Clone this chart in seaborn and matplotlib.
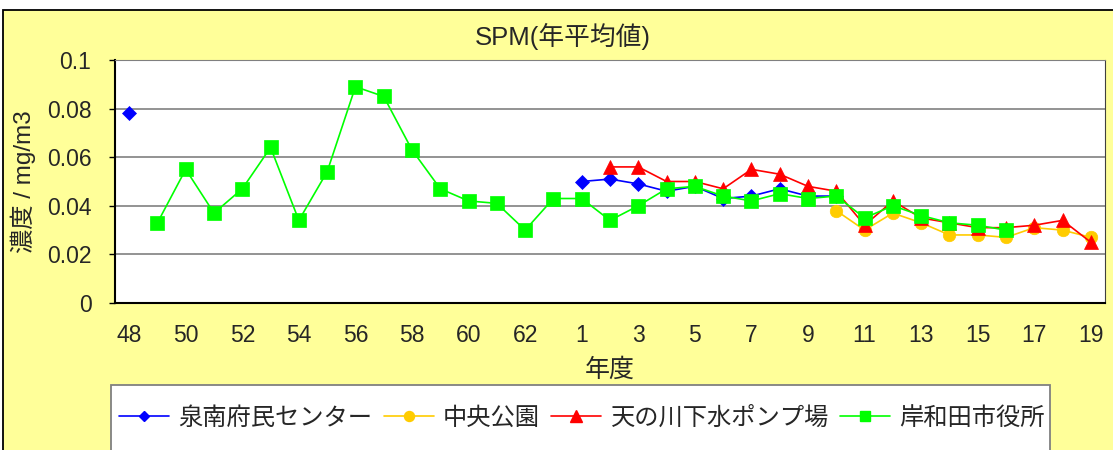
import numpy as np
import pandas as pd
import matplotlib
matplotlib.use("Agg")
import matplotlib.pyplot as plt
from matplotlib.lines import Line2D
from matplotlib.patches import Rectangle
import seaborn as sns

nan = np.nan

# 年度 (昭和48〜63, 平成1〜19)
years = ['48', '49', '50', '51', '52', '53', '54', '55', '56', '57', '58', '59',
         '60', '61', '62', '63', '1', '2', '3', '4', '5', '6', '7', '8', '9',
         '10', '11', '12', '13', '14', '15', '16', '17', '18', '19']

stations = ['泉南府民センター', '中央公園', '天の川下水ポンプ場', '岸和田市役所']

# 年平均値 mg/m3
sennan = [0.078, nan, nan, nan, nan, nan, nan, nan, nan, nan, nan, nan,
          nan, nan, nan, nan, 0.050, 0.051, 0.049, 0.046, 0.048, 0.043, 0.044,
          0.047, 0.044, 0.044, nan, nan, nan, nan, nan, nan, nan, nan, nan]
chuo = [nan, nan, nan, nan, nan, nan, nan, nan, nan, nan, nan, nan,
        nan, nan, nan, nan, nan, nan, nan, nan, nan, nan, nan, nan, nan,
        0.038, 0.030, 0.037, 0.033, 0.028, 0.028, 0.027, 0.031, 0.030, 0.027]
amanogawa = [nan, nan, nan, nan, nan, nan, nan, nan, nan, nan, nan, nan,
             nan, nan, nan, nan, nan, 0.056, 0.056, 0.050, 0.050, 0.047, 0.055,
             0.053, 0.048, 0.046, 0.032, 0.042, 0.035, 0.033, 0.031, 0.031,
             0.032, 0.034, 0.025]
kishiwada = [nan, 0.033, 0.055, 0.037, 0.047, 0.064, 0.034, 0.054, 0.089, 0.085,
             0.063, 0.047, 0.042, 0.041, 0.030, 0.043, 0.043, 0.034, 0.040,
             0.047, 0.048, 0.044, 0.042, 0.045, 0.043, 0.044, 0.035, 0.040,
             0.036, 0.033, 0.032, 0.030, nan, nan, nan]

series = [sennan, chuo, amanogawa, kishiwada]
colors = ['#0000FF', '#FFCC00', '#FF0000', '#00FF00']
markers = ['D', 'o', '^', 's']
msizes = [7, 9, 10, 9.5]

W, H = 1113, 450


def build_frame():
    # 欠測で線を切るため、連続区間ごとに seg 番号を振る
    rows = []
    for name, vals in zip(stations, series):
        seg = 0
        prev_nan = True
        for i, v in enumerate(vals):
            if np.isnan(v):
                prev_nan = True
                continue
            if prev_nan:
                seg += 1
            prev_nan = False
            rows.append({'station': name, 'pos': i, 'value': v, 'seg': seg})
    return pd.DataFrame(rows)


df = build_frame()

sns.set_style("white")
plt.rcParams['font.family'] = ['Liberation Sans', 'Noto Sans CJK JP']

fig = plt.figure(figsize=(W / 100, H / 100), dpi=100)
fig.patch.set_facecolor('white')
fig.add_artist(Rectangle((3 / W, -0.1), 1.2, 1 - 10 / H + 0.1,
                         transform=fig.transFigure, facecolor='#FFFF99',
                         edgecolor='black', lw=1.3, zorder=-10))

ax = fig.add_axes([115 / W, 1 - 303 / H, 990 / W, 243 / H])
ax.set_facecolor('white')

for name, c, m, ms in zip(stations, colors, markers, msizes):
    sub = df[df.station == name]
    sns.lineplot(data=sub, x='pos', y='value', units='seg', estimator=None,
                 sort=False, color=c, marker=m, markersize=ms,
                 markeredgecolor=c, markeredgewidth=0.5, linewidth=1.2,
                 legend=False, ax=ax)

ax.set_xlim(-0.5, 34.5)
ax.set_xticks(range(0, 35, 2))
ax.set_xticklabels(years[::2])
ax.set_xticks(np.arange(-0.5, 35, 1), minor=True)
ax.tick_params(axis='x', which='major', length=0, pad=15, labelsize=16.5)
ax.tick_params(axis='x', which='minor', direction='in', length=6, width=1,
               color='black')

ax.set_ylim(0, 0.1)
ax.set_yticks([0, 0.02, 0.04, 0.06, 0.08, 0.1])
ax.set_yticklabels(['0', '0.02', '0.04', '0.06', '0.08', '0.1'])
ax.tick_params(axis='y', direction='out', length=4, width=1, pad=13,
               labelsize=16.5, color='black', left=True)
ax.yaxis.grid(True, color='#808080', lw=1.2)
ax.set_axisbelow(True)

for side in ['left', 'bottom']:
    ax.spines[side].set_color('black')
    ax.spines[side].set_linewidth(1.5)
ax.spines['top'].set_color('#808080')
ax.spines['right'].set_color('#404040')

ax.set_xlabel('年度', fontsize=18)
ax.xaxis.set_label_coords(0.5, -0.225)
ax.set_ylabel('濃度 / mg/m3', fontsize=17.5)
ax.yaxis.set_label_coords(-0.08, 0.5)

fig.text(563 / W, 1 - 36 / H, 'SPM(年平均値)', ha='center', va='center',
         fontsize=18.5)

# 凡例
fig.add_artist(Rectangle((111 / W, 1 - 455 / H), (1050 - 111) / W, (455 - 385) / H,
                         transform=fig.transFigure, facecolor='white',
                         edgecolor='#808080', lw=1.3, zorder=-5))
handles = [Line2D([], [], color=c, marker=m, markersize=ms * 0.8,
                  markeredgecolor=c, lw=1.2)
           for c, m, ms in zip(colors, markers, msizes)]
fig.legend(handles, stations, loc='center', bbox_to_anchor=(582 / W, 1 - 418 / H),
           ncol=4, frameon=False, fontsize=17.5, handlelength=2.06,
           handletextpad=0.38, columnspacing=0.47)

fig.savefig('out.png', dpi=100, facecolor=fig.get_facecolor())
